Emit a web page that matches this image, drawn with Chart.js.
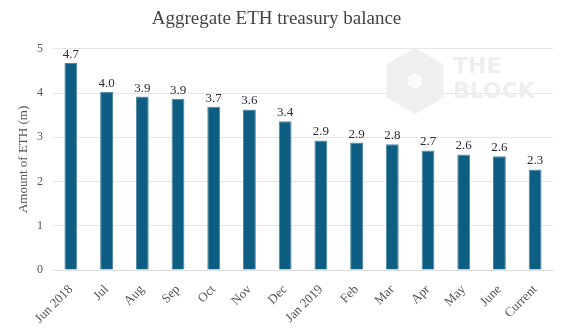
<!DOCTYPE html>
<html>
<head>
<meta charset="utf-8">
<script src="https://cdn.jsdelivr.net/npm/chart.js@4"></script>
<style>
  html, body { margin: 0; padding: 0; background: #fff; }
  #wrap { width: 573px; height: 332px; }
</style>
</head>
<body>
<div id="wrap"><canvas id="chart" width="573" height="332"></canvas></div>
<script>
// Aggregate ETH treasury balance, millions of ETH
const months = ['Jun 2018', 'Jul', 'Aug', 'Sep', 'Oct', 'Nov', 'Dec', 'Jan 2019', 'Feb', 'Mar', 'Apr', 'May', 'June', 'Current'];
const balances = [4.68, 4.03, 3.92, 3.87, 3.69, 3.63, 3.36, 2.93, 2.88, 2.84, 2.70, 2.61, 2.57, 2.27];
const yTicks = [0, 1, 2, 3, 4, 5];

const serif = '"Liberation Serif", "DejaVu Serif", serif';

// faint "THE BLOCK" watermark behind the bars
const watermark = {
    id: 'watermark',
    beforeDatasetsDraw(chart) {
        const ctx = chart.ctx;
        const hex = (cx, cy, r) => {
            ctx.beginPath();
            for (let i = 0; i < 6; i++) {
                const a = -Math.PI / 2 + i * Math.PI / 3;
                const px = cx + r * Math.cos(a), py = cy + r * Math.sin(a);
                if (i === 0) ctx.moveTo(px, py); else ctx.lineTo(px, py);
            }
            ctx.closePath();
            ctx.fill();
        };
        ctx.save();
        ctx.fillStyle = '#efefef';
        hex(415, 81, 33);
        ctx.fillStyle = '#fbfbfb';
        hex(415, 81, 8);
        ctx.fillStyle = '#eeeeee';
        ctx.font = 'bold 22px "DejaVu Sans", sans-serif';
        ctx.textBaseline = 'middle';
        ctx.fillText('THE', 453, 67);
        ctx.fillText('BLOCK', 453, 92);
        ctx.restore();
    }
};

// value labels above each bar
const barLabels = {
    id: 'barLabels',
    afterDatasetsDraw(chart) {
        const ctx = chart.ctx;
        const meta = chart.getDatasetMeta(0);
        ctx.save();
        ctx.font = '13px ' + serif;
        ctx.fillStyle = '#2b2b3a';
        ctx.textAlign = 'center';
        ctx.textBaseline = 'bottom';
        meta.data.forEach((bar, i) => {
            ctx.fillText(balances[i].toFixed(1), bar.x, bar.y - 2);
        });
        ctx.restore();
    }
};

new Chart(document.getElementById('chart'), {
    type: 'bar',
    data: {
        labels: months,
        datasets: [{
            data: balances,
            backgroundColor: '#0d5e82',
            borderColor: '#4f86a3',
            borderWidth: 1,
            barPercentage: 0.36,
            categoryPercentage: 1
        }]
    },
    options: {
        responsive: false,
        animation: false,
        layout: { padding: { left: 0, right: 20, top: 0, bottom: 0 } },
        plugins: {
            legend: { display: false },
            tooltip: { enabled: false },
            title: {
                display: true,
                text: 'Aggregate ETH treasury balance',
                color: '#444',
                font: { family: serif, size: 19, weight: 'normal' },
                padding: { top: 8, bottom: 18 }
            }
        },
        scales: {
            x: {
                grid: { display: false },
                border: { color: '#dddddd' },
                ticks: {
                    color: '#555',
                    font: { family: serif, size: 13 },
                    minRotation: 45,
                    maxRotation: 45,
                    padding: 4
                },
                afterFit(scale) { scale.height = 62; }
            },
            y: {
                min: 0,
                max: 5,
                afterBuildTicks(scale) { scale.ticks = yTicks.map(v => ({ value: v })); },
                grid: { color: '#e6e6e6', drawTicks: false },
                border: { display: false },
                ticks: {
                    color: '#555',
                    font: { family: serif, size: 12 },
                    padding: 10
                },
                title: {
                    display: true,
                    text: 'Amount of ETH (m)',
                    color: '#555',
                    font: { family: serif, size: 13 },
                    padding: { top: 16, bottom: 0 }
                },
                afterFit(scale) { scale.width = 53; }
            }
        }
    },
    plugins: [watermark, barLabels]
});
</script>
</body>
</html>
